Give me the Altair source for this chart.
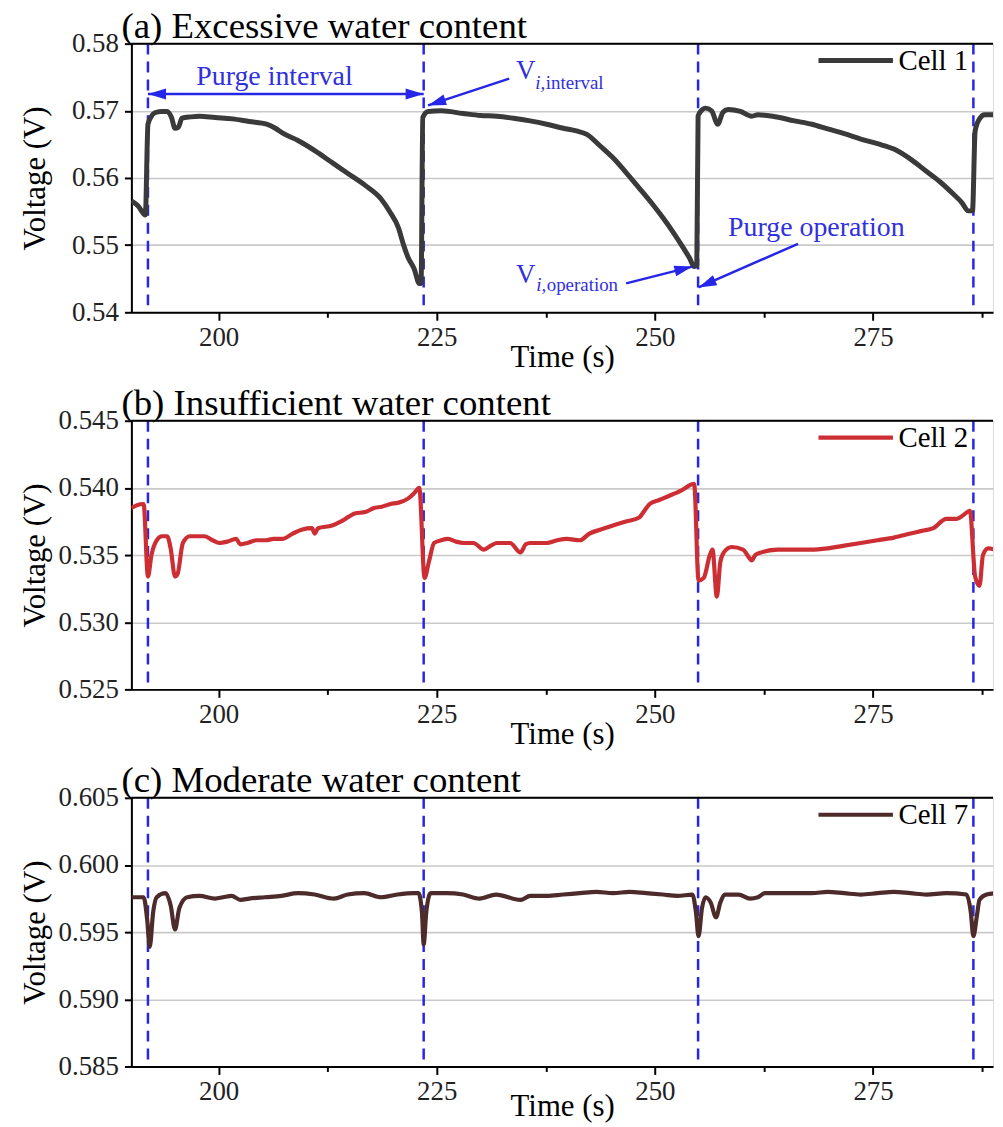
import math
import altair as alt
import pandas as pd

FONT = "Liberation Serif"
BLUE = "#2626e8"
TXT_BLUE = "#3030dc"

# ---------------- data ----------------
x_domain = [190, 288.75]
purge_times = [191.9, 223.5, 254.95, 286.5]

t_cell1 = [190.0, 190.8, 191.6, 191.9, 192.3, 192.7, 193.4, 194.1, 194.6, 195.0, 195.4, 195.8,
           196.8, 197.8, 199.6, 201.6, 203.5, 205.5, 206.5, 207.3, 209.2, 211.1, 213.0, 214.9,
           216.8, 218.6, 219.6, 220.6, 221.2, 221.7, 222.4, 223.0, 223.2, 223.4, 224.0, 225.5,
           228.0, 230.0, 231.9, 233.8, 235.7, 237.6, 239.5, 241.0, 242.2, 243.7, 245.2, 246.7,
           248.2, 249.6, 250.9, 252.1, 253.2, 254.0, 254.5, 254.8, 254.95, 255.3, 255.8, 256.5,
           257.2, 257.8, 258.4, 259.8, 261.1, 261.8, 263.5, 266.0, 268.0, 269.8, 271.7, 273.6,
           275.5, 277.4, 279.3, 281.1, 282.7, 284.2, 285.2, 285.9, 286.4, 286.7, 287.2, 287.8,
           289.0]
v_cell1 = [0.5566, 0.5558, 0.5545, 0.5680, 0.5692, 0.5697, 0.5699, 0.5699, 0.5690, 0.5674, 0.5676, 0.5689,
           0.5691, 0.5692, 0.5690, 0.5688, 0.5684, 0.5680, 0.5674, 0.5667, 0.5655, 0.5640, 0.5623, 0.5606,
           0.5589, 0.5569, 0.5550, 0.5526, 0.5500, 0.5482, 0.5465, 0.5443, 0.5443, 0.5690, 0.5699, 0.5700,
           0.5696, 0.5693, 0.5692, 0.5689, 0.5685, 0.5680, 0.5674, 0.5670, 0.5665, 0.5648, 0.5630, 0.5608,
           0.5585, 0.5563, 0.5541, 0.5519, 0.5497, 0.5480, 0.5468, 0.5470, 0.5692, 0.5700, 0.5704, 0.5700,
           0.5680, 0.5698, 0.5702, 0.5699, 0.5692, 0.5694, 0.5692, 0.5685, 0.5680, 0.5673, 0.5666, 0.5658,
           0.5651, 0.5643, 0.5628, 0.5610, 0.5594, 0.5576, 0.5563, 0.5551, 0.5551, 0.5670, 0.5688, 0.5694,
           0.5694]

t_cell2 = [190.0, 190.6, 191.4, 191.9, 192.3, 192.9, 193.5, 194.1, 194.5, 195.0, 195.3, 195.9,
           196.7, 197.6, 198.4, 199.3, 200.1, 201.0, 202.0, 202.5, 203.3, 204.3, 205.4, 206.3,
           207.3, 208.5, 209.6, 210.7, 211.0, 211.4, 213.0, 214.3, 215.6, 216.8, 217.8, 218.7,
           219.7, 220.6, 221.7, 222.4, 223.0, 223.6, 224.1, 224.7, 225.5, 226.3, 227.2, 228.1,
           229.2, 230.4, 231.2, 231.9, 233.4, 234.6, 235.2, 235.7, 237.6, 238.8, 239.9, 241.4,
           242.5, 243.8, 245.2, 246.7, 248.2, 248.8, 249.4, 250.5, 251.6, 253.0, 254.5, 255.0,
           255.6, 256.3, 256.6, 257.1, 257.5, 257.9, 258.8, 260.1, 260.8, 261.1, 261.5, 262.2,
           264.1, 266.0, 267.9, 269.8, 271.7, 273.6, 275.5, 277.4, 279.3, 280.6, 281.9, 283.4,
           284.6, 285.4, 286.1, 286.7, 287.2, 287.6, 288.2, 289.0]
v_cell2 = [0.5385, 0.5387, 0.5388, 0.5334, 0.5350, 0.5361, 0.5364, 0.5364, 0.5355, 0.5334, 0.5336, 0.5359,
           0.5364, 0.5364, 0.5364, 0.5361, 0.5359, 0.5360, 0.5362, 0.5358, 0.5359, 0.5361, 0.5361, 0.5362,
           0.5362, 0.5366, 0.5369, 0.5370, 0.5366, 0.5370, 0.5372, 0.5376, 0.5381, 0.5382, 0.5385, 0.5386,
           0.5388, 0.5389, 0.5392, 0.5396, 0.5400, 0.5333, 0.5345, 0.5359, 0.5361, 0.5362, 0.5360, 0.5359,
           0.5359, 0.5354, 0.5357, 0.5359, 0.5359, 0.5352, 0.5358, 0.5359, 0.5359, 0.5361, 0.5362, 0.5361,
           0.5366, 0.5369, 0.5372, 0.5375, 0.5378, 0.5383, 0.5388, 0.5391, 0.5394, 0.5398, 0.5403, 0.5331,
           0.5333, 0.5350, 0.5354, 0.5319, 0.5345, 0.5352, 0.5356, 0.5354, 0.5348, 0.5346, 0.5350, 0.5352,
           0.5354, 0.5354, 0.5354, 0.5355, 0.5357, 0.5359, 0.5361, 0.5363, 0.5366, 0.5368, 0.5370, 0.5377,
           0.5377, 0.5380, 0.5383, 0.5334, 0.5327, 0.5350, 0.5355, 0.5354]

t_cell7 = [190.0, 191.4, 191.8, 192.1, 192.5, 192.9, 193.9, 194.5, 195.0, 195.5, 196.4, 197.8,
           199.6, 200.5, 201.5, 202.5, 203.5, 205.3, 207.2, 209.1, 211.0, 213.2, 214.8, 216.7,
           218.6, 220.5, 222.4, 222.9, 223.3, 223.5, 223.8, 224.3, 226.1, 228.0, 229.9, 231.8,
           234.6, 235.7, 237.6, 239.5, 241.4, 243.3, 245.2, 247.1, 249.0, 250.9, 252.6, 254.3,
           254.7, 255.0, 255.4, 255.8, 256.4, 257.0, 257.5, 258.0, 259.6, 260.9, 261.8, 262.6,
           264.3, 266.0, 268.0, 269.8, 271.7, 273.6, 275.5, 277.4, 279.3, 281.1, 283.4, 285.7,
           286.2, 286.5, 286.9, 287.2, 288.0, 289.0]
v_cell7 = [0.5976, 0.5976, 0.5960, 0.5939, 0.5965, 0.5976, 0.5979, 0.5970, 0.5952, 0.5968, 0.5976, 0.5977,
           0.5975, 0.5976, 0.5977, 0.5974, 0.5975, 0.5976, 0.5977, 0.5979, 0.5978, 0.5975, 0.5978, 0.5979,
           0.5976, 0.5978, 0.5979, 0.5979, 0.5965, 0.5941, 0.5965, 0.5979, 0.5979, 0.5978, 0.5975, 0.5978,
           0.5974, 0.5977, 0.5977, 0.5978, 0.5979, 0.5980, 0.5979, 0.5980, 0.5979, 0.5978, 0.5977, 0.5978,
           0.5965, 0.5947, 0.5968, 0.5976, 0.5972, 0.5961, 0.5972, 0.5978, 0.5978, 0.5975, 0.5976, 0.5979,
           0.5979, 0.5979, 0.5979, 0.5980, 0.5979, 0.5978, 0.5979, 0.5980, 0.5979, 0.5978, 0.5979, 0.5978,
           0.5965, 0.5947, 0.5962, 0.5974, 0.5978, 0.5979]

panel_titles = ["(a) Excessive water content", "(b) Insufficient water content",
                "(c) Moderate water content"]
series_names = ["Cell 1", "Cell 2", "Cell 7"]
series_colors = ["#3a3a3a", "#cc2e33", "#4d2b2b"]

# annotations for panel (a)
interval_arrow = {"t0": 191.9, "t1": 223.5, "v": 0.5725}
arrow_tail_t = [233.3, 246.7, 266.4]
arrow_tail_v = [0.5748, 0.5443, 0.5502]
arrow_tip_t = [224.0, 254.3, 255.0]
arrow_tip_v = [0.5708, 0.5468, 0.5437]
label_text = ["Purge interval", "Purge operation"]
label_t = [206.4, 268.5]
label_v = [0.5750, 0.5525]
v_big_t = [235.2, 235.2]
v_big_v = [0.5759, 0.5455]
sub_i_text = ["i,", "i,"]
sub_i_t = [236.3, 236.4]
sub_rest_text = ["interval", "operation"]
sub_rest_t = [237.5, 237.6]
sub_v = [0.5742, 0.5440]

# ---------------- layout ----------------
W, H = 866, 270
PX_PER_S = W / (x_domain[1] - x_domain[0])


def make_panel(t, v, name, color, lw, ydom, ystep, fmt, title, xtitle_pad, annotate=False):
    n_minor = int(round((ydom[1] - ydom[0]) / (ystep / 2)))
    yvals = [round(ydom[0] + i * ystep / 2, 5) for i in range(n_minor + 1)]
    major = f"abs(datum.value/{ystep} - round(datum.value/{ystep})) < 0.05"
    xmajor = "abs(datum.value/25 - round(datum.value/25)) < 0.01"
    xaxis = alt.Axis(values=[200, 212.5, 225, 237.5, 250, 262.5, 275, 287.5],
                     labelExpr=f"{xmajor} ? format(datum.value, 'd') : ''",
                     grid=False, labelOverlap=False, labelFlush=False,
                     tickSize={"condition": {"test": xmajor, "value": 8}, "value": 5},
                     tickColor="black", tickWidth=2, domainColor="black", domainWidth=2,
                     labelFont=FONT, labelFontSize=27, labelColor="#222", labelPadding=4,
                     titleFont=FONT, titleFontSize=31, titleFontWeight="normal",
                     titleColor="black", titlePadding=xtitle_pad)
    yaxis = alt.Axis(values=yvals,
                     labelExpr=f"{major} ? format(datum.value, '{fmt}') : ''",
                     labelOverlap=False, labelFlush=False,
                     gridColor={"condition": {"test": major, "value": "#c9c9c9"}, "value": "#e8e8e8"},
                     gridWidth={"condition": {"test": major, "value": 1.6}, "value": 1.1},
                     tickSize={"condition": {"test": major, "value": 7}, "value": 4},
                     tickColor="black", tickWidth=2, domainColor="black", domainWidth=2,
                     labelFont=FONT, labelFontSize=27, labelColor="#222", labelPadding=6,
                     minExtent=78, maxExtent=78,
                     titleFont=FONT, titleFontSize=31, titleFontWeight="normal",
                     titleColor="black", titlePadding=2)
    xs = alt.Scale(domain=x_domain, nice=False, zero=False)
    ys = alt.Scale(domain=ydom, nice=False, zero=False)

    df = pd.DataFrame({"t": t, "v": v, "series": name})
    line = alt.Chart(df).mark_line(strokeWidth=lw, strokeJoin="round", clip=True,
                                   interpolate="monotone").encode(
        x=alt.X("t:Q", scale=xs, axis=xaxis, title="Time (s)"),
        y=alt.Y("v:Q", scale=ys, axis=yaxis, title="Voltage (V)"),
        color=alt.Color("series:N", scale=alt.Scale(domain=[name], range=[color]),
                        legend=alt.Legend(orient="none", legendX=688, legendY=-23, title=None,
                                          symbolType="stroke", symbolSize=5600,
                                          symbolStrokeWidth=lw, labelFont=FONT,
                                          labelFontSize=29, labelColor="black",
                                          labelOffset=3, padding=0)),
    )
    purge = alt.Chart(pd.DataFrame({"t": purge_times})).mark_rule(
        color=BLUE, strokeWidth=2.5, strokeDash=[11, 7]).encode(x=alt.X("t:Q", scale=xs))
    top = alt.Chart(pd.DataFrame({"v": [ydom[1]]})).mark_rule(
        color="black", strokeWidth=2).encode(y=alt.Y("v:Q", scale=ys))
    layers = [purge, line, top]

    if annotate:
        pxv = H / (ydom[1] - ydom[0])
        ia = pd.DataFrame({"t0": [interval_arrow["t0"]], "t1": [interval_arrow["t1"]],
                           "v": [interval_arrow["v"]]})
        layers.append(alt.Chart(ia).mark_rule(color=BLUE, strokeWidth=2.5).encode(
            x=alt.X("t0:Q", scale=xs), x2="t1:Q", y=alt.Y("v:Q", scale=ys)))
        heads = pd.DataFrame({"t": [interval_arrow["t0"], interval_arrow["t1"]] + arrow_tip_t,
                              "v": [interval_arrow["v"]] * 2 + arrow_tip_v})
        angles = [270, 90]
        for a0, b0, a1, b1 in zip(arrow_tail_t, arrow_tail_v, arrow_tip_t, arrow_tip_v):
            dx = (a1 - a0) * PX_PER_S
            dy = -(b1 - b0) * pxv
            angles.append((math.degrees(math.atan2(dx, -dy)) + 360) % 360)
        heads["angle"] = angles
        arrows = pd.DataFrame({"t0": arrow_tail_t, "v0": arrow_tail_v,
                               "t1": arrow_tip_t, "v1": arrow_tip_v})
        layers.append(alt.Chart(arrows).mark_rule(color=BLUE, strokeWidth=2.5).encode(
            x=alt.X("t0:Q", scale=xs), y=alt.Y("v0:Q", scale=ys), x2="t1:Q", y2="v1:Q"))
        layers.append(alt.Chart(heads).mark_point(
            shape="M0,0L0.6,2L-0.6,2Z", filled=True, color=BLUE, opacity=1,
            size=330, strokeWidth=0).encode(
            x=alt.X("t:Q", scale=xs), y=alt.Y("v:Q", scale=ys),
            angle=alt.Angle("angle:Q", scale=None)))
        labels = pd.DataFrame({"t": label_t, "v": label_v, "txt": label_text})
        layers.append(alt.Chart(labels).mark_text(
            font=FONT, fontSize=28, color=TXT_BLUE, align="center", baseline="middle").encode(
            x=alt.X("t:Q", scale=xs), y=alt.Y("v:Q", scale=ys), text="txt:N"))
        vbig = pd.DataFrame({"t": v_big_t, "v": v_big_v, "txt": ["V", "V"]})
        layers.append(alt.Chart(vbig).mark_text(
            font=FONT, fontSize=27, color=TXT_BLUE, align="center", baseline="middle").encode(
            x=alt.X("t:Q", scale=xs), y=alt.Y("v:Q", scale=ys), text="txt:N"))
        si = pd.DataFrame({"t": sub_i_t, "v": sub_v, "txt": sub_i_text})
        layers.append(alt.Chart(si).mark_text(
            font=FONT, fontSize=19, fontStyle="italic", color=TXT_BLUE, align="left",
            baseline="middle").encode(
            x=alt.X("t:Q", scale=xs), y=alt.Y("v:Q", scale=ys), text="txt:N"))
        sr = pd.DataFrame({"t": sub_rest_t, "v": sub_v, "txt": sub_rest_text})
        layers.append(alt.Chart(sr).mark_text(
            font=FONT, fontSize=19, color=TXT_BLUE, align="left", baseline="middle").encode(
            x=alt.X("t:Q", scale=xs), y=alt.Y("v:Q", scale=ys), text="txt:N"))

    return alt.layer(*layers).properties(
        width=W, height=H,
        title=alt.TitleParams(title, anchor="start", frame="group", font=FONT, fontSize=37,
                              fontWeight="normal", color="black", dx=-10, offset=-25),
    )


pa = make_panel(t_cell1, v_cell1, series_names[0], series_colors[0], 5,
                [0.54, 0.58], 0.01, ".2f", panel_titles[0], -8, annotate=True)
pb = make_panel(t_cell2, v_cell2, series_names[1], series_colors[1], 4.2,
                [0.525, 0.545], 0.005, ".3f", panel_titles[1], -8)
pc = make_panel(t_cell7, v_cell7, series_names[2], series_colors[2], 4.2,
                [0.585, 0.605], 0.005, ".3f", panel_titles[2], -13)

chart = alt.vconcat(pa, pb, pc, spacing=11).resolve_scale(color="independent").properties(
    padding={"left": 11, "top": -4, "right": 0, "bottom": 0}
).configure_view(stroke=None).configure(background="white", font=FONT)

chart.save("out.html", embed_options={"renderer": "svg", "actions": False})
